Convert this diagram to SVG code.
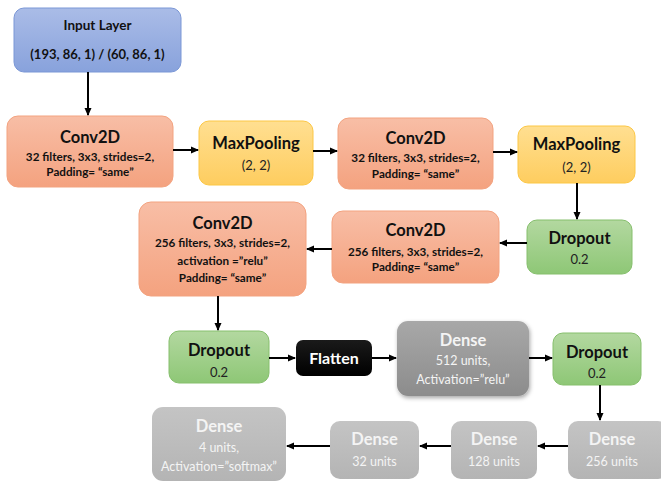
<svg xmlns="http://www.w3.org/2000/svg" width="661" height="481" viewBox="0 0 661 481">
<defs>
<linearGradient id="gBlue" x1="0" y1="0" x2="0" y2="1"><stop offset="0" stop-color="#aabce7"/><stop offset="1" stop-color="#88a2dc"/></linearGradient>
<linearGradient id="gOrange" x1="0" y1="0" x2="0" y2="1"><stop offset="0" stop-color="#f8bea6"/><stop offset="1" stop-color="#f4a27f"/></linearGradient>
<linearGradient id="gYellow" x1="0" y1="0" x2="0" y2="1"><stop offset="0" stop-color="#ffdf91"/><stop offset="1" stop-color="#fecd5f"/></linearGradient>
<linearGradient id="gGreen" x1="0" y1="0" x2="0" y2="1"><stop offset="0" stop-color="#b3d8a0"/><stop offset="1" stop-color="#8ec776"/></linearGradient>
<linearGradient id="gGrayD" x1="0" y1="0" x2="0" y2="1"><stop offset="0" stop-color="#a8a8a8"/><stop offset="1" stop-color="#8c8c8c"/></linearGradient>
<linearGradient id="gGray" x1="0" y1="0" x2="0" y2="1"><stop offset="0" stop-color="#c4c4c4"/><stop offset="1" stop-color="#b4b4b4"/></linearGradient>
<linearGradient id="gBlack" x1="0" y1="0" x2="0" y2="1"><stop offset="0" stop-color="#1a1a1a"/><stop offset="1" stop-color="#000"/></linearGradient>
<filter id="shadow" x="-10%" y="-10%" width="125%" height="130%"><feDropShadow dx="1" dy="2" stdDeviation="2" flood-color="#000" flood-opacity="0.35"/></filter>
<marker id="arr" markerWidth="8" markerHeight="8" refX="7" refY="4" orient="auto" markerUnits="userSpaceOnUse"><path d="M0,0.5 L8,4 L0,7.5 z" fill="#000"/></marker>
</defs>
<style>
text{font-family:Lato,"Open Sans","Liberation Sans",sans-serif;text-anchor:middle;}
.t{font-weight:bold;font-size:16.5px;fill:#111;}
.s{font-weight:bold;font-size:11.7px;fill:#111;}
.r{font-size:13px;fill:#222;}
.w{font-weight:bold;font-size:16.5px;fill:#f4f4f4;}
.wr{font-size:12.5px;fill:#f4f4f4;}
.blue{fill:url(#gBlue);stroke:#7b97d6;stroke-width:1;}
.or{fill:url(#gOrange);stroke:#f3a380;stroke-width:1;}
.ye{fill:url(#gYellow);stroke:#fcc745;stroke-width:1;}
.gr{fill:url(#gGreen);stroke:#86bf6d;stroke-width:1;}
.gy{fill:url(#gGray);}
.gyd{fill:url(#gGrayD);}
.conn line{stroke:#000;stroke-width:2;marker-end:url(#arr);}
</style>

<g id="input">
<rect class="blue" x="14" y="8" width="167" height="64" rx="10"/>
<text class="s" x="97.5" y="30" style="font-size:13.5px">Input Layer</text>
<text class="s" x="97.5" y="59" style="font-size:13px">(193, 86, 1) / (60, 86, 1)</text>
</g>

<g id="conv1">
<rect class="or" x="7" y="116" width="166" height="71" rx="11"/>
<text class="t" x="90" y="143">Conv2D</text>
<text class="s" x="90" y="161">32 filters, 3x3, strides=2,</text>
<text class="s" x="90" y="176">Padding= “same”</text>
</g>

<g id="maxpool1">
<rect class="ye" x="199" y="121" width="114" height="64" rx="10"/>
<text class="t" x="256" y="149">MaxPooling</text>
<text class="r" x="256" y="170">(2, 2)</text>
</g>

<g id="conv2">
<rect class="or" x="338" y="118" width="155" height="71" rx="11"/>
<text class="t" x="415.5" y="144">Conv2D</text>
<text class="s" x="415.5" y="162">32 filters, 3x3, strides=2,</text>
<text class="s" x="415.5" y="178">Padding= “same”</text>
</g>

<g id="maxpool2">
<rect class="ye" x="518" y="126" width="117" height="57" rx="10"/>
<text class="t" x="576.5" y="150">MaxPooling</text>
<text class="r" x="576.5" y="172">(2, 2)</text>
</g>

<g id="dropout1">
<rect class="gr" x="527" y="220" width="105" height="54" rx="10"/>
<text class="t" x="579.5" y="244">Dropout</text>
<text class="r" x="579.5" y="264">0.2</text>
</g>

<g id="conv3">
<rect class="or" x="332" y="211" width="167" height="72" rx="11"/>
<text class="t" x="415.5" y="236">Conv2D</text>
<text class="s" x="415.5" y="256">256 filters, 3x3, strides=2,</text>
<text class="s" x="415.5" y="271">Padding= “same”</text>
</g>

<g id="conv4">
<rect class="or" x="139" y="202" width="167" height="94" rx="12"/>
<text class="t" x="222.5" y="229">Conv2D</text>
<text class="s" x="222.5" y="247">256 filters, 3x3, strides=2,</text>
<text class="s" x="222.5" y="265">activation =”relu”</text>
<text class="s" x="222.5" y="282">Padding= “same”</text>
</g>

<g id="dropout2">
<rect class="gr" x="169" y="331" width="100" height="52" rx="10"/>
<text class="t" x="219" y="356">Dropout</text>
<text class="r" x="219" y="377">0.2</text>
</g>

<g id="flatten">
<rect x="296" y="340" width="76" height="36" rx="7" fill="url(#gBlack)"/>
<text class="w" x="334" y="364" style="font-size:16px;fill:#fff">Flatten</text>
</g>

<g id="dense512">
<rect class="gyd" x="397" y="321" width="132" height="75" rx="11" filter="url(#shadow)"/>
<text class="w" x="463" y="346">Dense</text>
<text class="wr" x="463" y="365">512 units,</text>
<text class="wr" x="463" y="384">Activation=”relu”</text>
</g>

<g id="dropout3">
<rect class="gr" x="553" y="333" width="88" height="52" rx="10"/>
<text class="t" x="597" y="358">Dropout</text>
<text class="r" x="597" y="378">0.2</text>
</g>

<g id="dense256">
<rect class="gy" x="568" y="421" width="100" height="58" rx="10"/>
<text class="w" x="612" y="445">Dense</text>
<text class="wr" x="612" y="466">256 units</text>
</g>

<g id="dense128">
<rect class="gy" x="451" y="421" width="86" height="58" rx="10"/>
<text class="w" x="494" y="445">Dense</text>
<text class="wr" x="494" y="466">128 units</text>
</g>

<g id="dense32">
<rect class="gy" x="330" y="421" width="89" height="58" rx="10"/>
<text class="w" x="374.5" y="445">Dense</text>
<text class="wr" x="374.5" y="466">32 units</text>
</g>

<g id="dense4">
<rect class="gy" x="152" y="407" width="134" height="74" rx="11"/>
<text class="w" x="219" y="432">Dense</text>
<text class="wr" x="219" y="452">4 units,</text>
<text class="wr" x="219" y="471">Activation=”softmax”</text>
</g>

<g class="conn" id="connectors">
<line x1="88" y1="72" x2="88" y2="115"/>
<line x1="173" y1="150" x2="198" y2="150"/>
<line x1="313" y1="151" x2="337" y2="151"/>
<line x1="493" y1="152" x2="517" y2="152"/>
<line x1="577" y1="183" x2="577" y2="219"/>
<line x1="527" y1="243" x2="500" y2="243"/>
<line x1="332" y1="249" x2="307" y2="249"/>
<line x1="218" y1="296" x2="218" y2="330"/>
<line x1="269" y1="358" x2="295" y2="358"/>
<line x1="372" y1="358" x2="396" y2="358"/>
<line x1="529" y1="358" x2="552" y2="358"/>
<line x1="600" y1="385" x2="600" y2="420"/>
<line x1="568" y1="446" x2="538" y2="446"/>
<line x1="451" y1="446" x2="420" y2="446"/>
<line x1="330" y1="446" x2="287" y2="446"/>
</g>
</svg>
